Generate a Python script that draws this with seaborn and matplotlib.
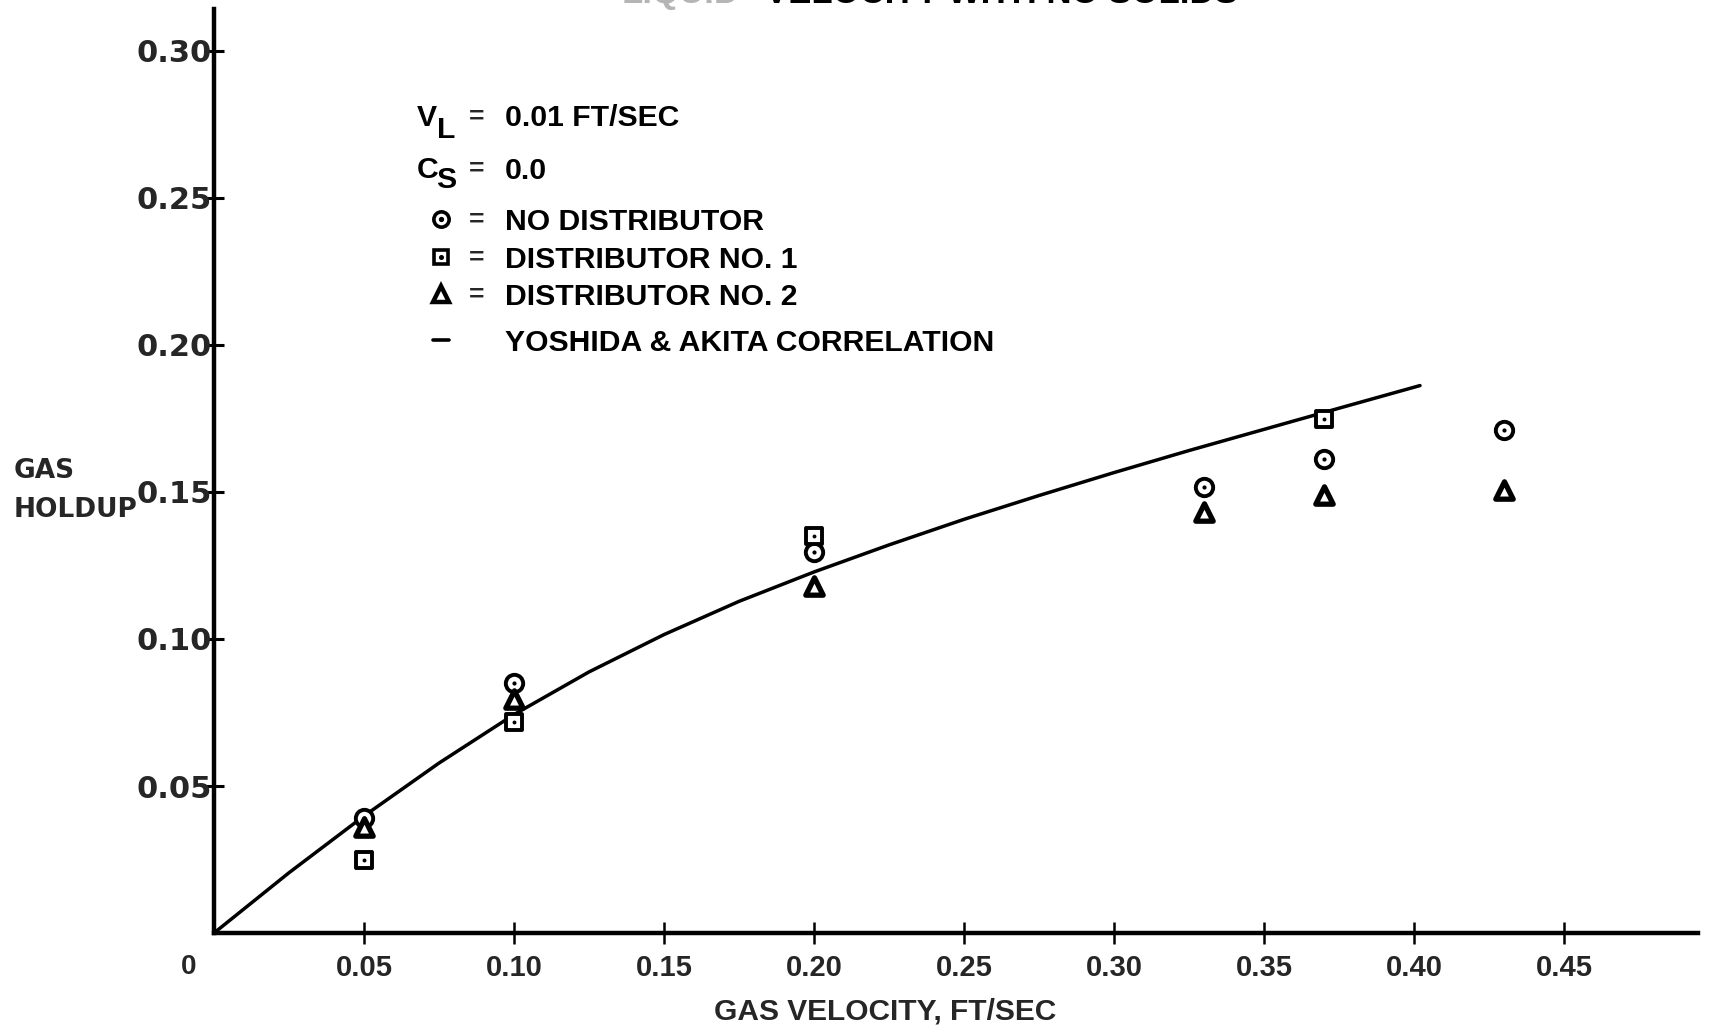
import numpy as np
import pandas as pd
import matplotlib
matplotlib.use("Agg")
import matplotlib.pyplot as plt
from matplotlib.lines import Line2D
import seaborn as sns

# Measured gas holdup, by distributor arrangement
no_dist_vel = [0.05, 0.10, 0.20, 0.33, 0.37, 0.43]
no_dist_holdup = [0.0392, 0.0852, 0.1297, 0.1518, 0.1612, 0.1712]

dist1_vel = [0.05, 0.10, 0.20, 0.37]
dist1_holdup = [0.0247, 0.0717, 0.1349, 0.1748]

dist2_vel = [0.05, 0.10, 0.20, 0.33, 0.37, 0.43]
dist2_holdup = [0.0361, 0.0797, 0.1179, 0.1432, 0.1490, 0.1508]

# Yoshida & Akita correlation curve
corr_vel = [0.0, 0.025, 0.05, 0.075, 0.10, 0.125, 0.15, 0.175, 0.20,
            0.225, 0.25, 0.275, 0.30, 0.325, 0.35, 0.375, 0.402]
corr_holdup = [0.0, 0.0205, 0.0398, 0.0578, 0.0743, 0.0888, 0.1015, 0.1128,
               0.1228, 0.1320, 0.1407, 0.1488, 0.1566, 0.1641, 0.1713,
               0.1785, 0.1862]

x_ticks = [0.05, 0.10, 0.15, 0.20, 0.25, 0.30, 0.35, 0.40, 0.45]
y_ticks = [0.05, 0.10, 0.15, 0.20, 0.25, 0.30]

sns.set_theme(style="white")
plt.rcParams["font.family"] = ["Liberation Sans", "DejaVu Sans"]

W, H = 1709, 1029
fig = plt.figure(figsize=(W / 100, H / 100), dpi=100)
fig.patch.set_facecolor("white")


def fx(px):
    return px / W


def fy(py):
    return 1 - py / H


ax_left, ax_right, ax_bottom, ax_top = 214, 1698, 933, 9
ax = fig.add_axes([fx(ax_left), fy(ax_bottom),
                   (ax_right - ax_left) / W, (ax_bottom - ax_top) / H])
ax.set_facecolor("white")

ax.set_xlim(0, (ax_right - ax_left) / 150 * 0.05)
ax.set_ylim(0, (ax_bottom - ax_top) / 147 * 0.05)

# correlation line
sns.lineplot(x=corr_vel, y=corr_holdup, ax=ax, color="black", linewidth=2.5,
             sort=False, estimator=None, zorder=2)

# no distributor: open circles with a centre dot
sns.scatterplot(x=no_dist_vel, y=no_dist_holdup, ax=ax, marker="o", s=12.5 ** 2,
                facecolor="white", edgecolor="black", linewidth=2.8, zorder=3)
sns.scatterplot(x=no_dist_vel, y=no_dist_holdup, ax=ax, marker="o", s=3.0 ** 2,
                color="black", linewidth=0, zorder=4)
# distributor no. 1: open squares with a centre dot
sns.scatterplot(x=dist1_vel, y=dist1_holdup, ax=ax, marker="s", s=11.5 ** 2,
                facecolor="white", edgecolor="black", linewidth=2.8, zorder=3)
sns.scatterplot(x=dist1_vel, y=dist1_holdup, ax=ax, marker="o", s=2.8 ** 2,
                color="black", linewidth=0, zorder=4)
# distributor no. 2: heavy triangles
sns.scatterplot(x=dist2_vel, y=dist2_holdup, ax=ax, marker="^", s=12.5 ** 2,
                facecolor="white", edgecolor="black", linewidth=3.8, zorder=3)

for side in ("top", "right"):
    ax.spines[side].set_visible(False)
for side in ("left", "bottom"):
    ax.spines[side].set_linewidth(3.2)
    ax.spines[side].set_color("black")

ax.set_xticks(x_ticks)
ax.set_xticklabels([f"{v:.2f}" for v in x_ticks])
ax.set_yticks(y_ticks)
ax.set_yticklabels([f"{v:.2f}" for v in y_ticks])
ax.tick_params(axis="x", bottom=True, direction="inout", length=16, width=1.8,
               color="black", pad=7, labelsize=21)
ax.tick_params(axis="y", left=True, direction="inout", length=15, width=2.2,
               color="black", pad=-6, labelsize=22)
for lab in ax.get_xticklabels():
    lab.set_fontweight("bold")
    lab.set_family(["Liberation Sans", "DejaVu Sans"])
for lab in ax.get_yticklabels():
    lab.set_fontweight("bold")
    lab.set_family(["DejaVu Sans"])
ax.grid(False)

# origin label
ax.annotate("0", xy=(0, 0), xytext=(-25, -34), textcoords="offset pixels",
            ha="center", va="center", fontsize=20, fontweight="bold",
            family=["Liberation Sans", "DejaVu Sans"], annotation_clip=False)

# axis titles
fig.text(fx(885), fy(1011), "GAS VELOCITY, FT/SEC", ha="center", va="center",
         fontsize=21.5, fontweight="bold", family=["Liberation Sans", "DejaVu Sans"])
fig.text(fx(14), fy(471), "GAS", ha="left", va="center", fontsize=19,
         fontweight="bold", family=["DejaVu Sans"])
fig.text(fx(14), fy(510), "HOLDUP", ha="left", va="center", fontsize=19,
         fontweight="bold", family=["DejaVu Sans"])

# title running off the top edge
fig.text(fx(622), fy(3), "LIQUID", ha="left", va="baseline", fontsize=25,
         fontweight="bold", color="#b5b5b5", family=["Liberation Sans"])
fig.text(fx(765), fy(3), "VELOCITY WITH NO SOLIDS", ha="left", va="baseline",
         fontsize=25, fontweight="bold", color="black", family=["Liberation Sans"])

# key block
key_font = dict(fontsize=21.7, fontweight="bold", color="black",
                family=["Liberation Sans", "DejaVu Sans"])
text_x = fx(505)
eq_x = fx(477)
rows = [115.5, 168, 219, 257, 294, 340]
labels = ["0.01 FT/SEC", "0.0", "NO DISTRIBUTOR", "DISTRIBUTOR NO. 1",
          "DISTRIBUTOR NO. 2", "YOSHIDA & AKITA CORRELATION"]
for r, lab in zip(rows, labels):
    fig.text(text_x, fy(r + 11), lab, ha="left", va="baseline", **key_font)
for r in rows[:5]:
    fig.text(eq_x, fy(r + 8), "=", ha="center", va="baseline", fontsize=19,
             fontweight="bold", family=["Liberation Sans"])

fig.text(fx(417), fy(rows[0] + 10), "V", ha="left", va="baseline", **key_font)
fig.text(fx(437), fy(rows[0] + 22), "L", ha="left", va="baseline", **key_font)
fig.text(fx(417), fy(rows[1] + 10), "C", ha="left", va="baseline", **key_font)
fig.text(fx(436), fy(rows[1] + 20), "S", ha="left", va="baseline", **key_font)

mx = fx(441)
fig.add_artist(Line2D([mx], [fy(rows[2])], marker="o", markersize=11,
                      markerfacecolor="white", markeredgecolor="black",
                      markeredgewidth=2.6, linestyle="none"))
fig.add_artist(Line2D([mx], [fy(rows[2])], marker="o", markersize=2.8,
                      color="black", linestyle="none"))
fig.add_artist(Line2D([mx], [fy(rows[3])], marker="s", markersize=10,
                      markerfacecolor="white", markeredgecolor="black",
                      markeredgewidth=2.6, linestyle="none"))
fig.add_artist(Line2D([mx], [fy(rows[3])], marker="o", markersize=2.6,
                      color="black", linestyle="none"))
fig.add_artist(Line2D([mx], [fy(rows[4])], marker="^", markersize=11,
                      markerfacecolor="white", markeredgecolor="black",
                      markeredgewidth=3.2, linestyle="none"))
fig.add_artist(Line2D([fx(433), fx(449)], [fy(rows[5]), fy(rows[5])],
                      color="black", linewidth=2.6))

fig.savefig("out.png", dpi=100, facecolor="white")
